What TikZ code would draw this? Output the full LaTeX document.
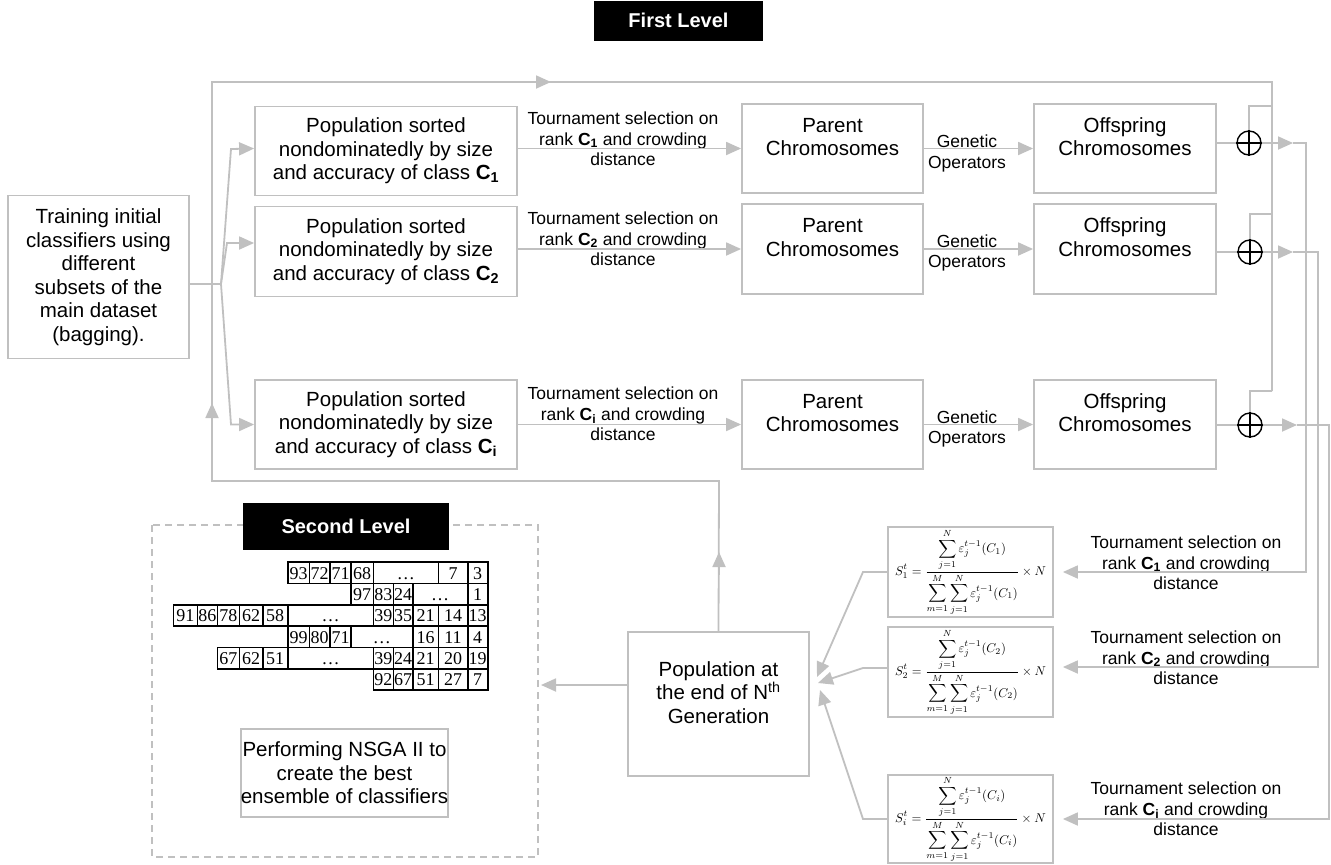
\documentclass[tikz,border=0pt]{standalone}
\usepackage{fontspec}
\setmainfont{Liberation Sans}
\newfontfamily\numfont{Liberation Serif}
\usepackage{graphicx}
\usetikzlibrary{arrows.meta,calc}
\definecolor{lg}{RGB}{192,192,192}
\newcommand\mainfs{\fontsize{20.5}{23.5}\selectfont}
\newcommand\lblfs{\fontsize{17.5}{20.5}\selectfont}
\newcommand\blkfs{\fontsize{20}{24}\selectfont\bfseries}
\newcommand\cellfs{\numfont\fontsize{18}{20}\selectfont}
\newcommand\Sform[1]{\resizebox*{151pt}{86pt}{$\displaystyle S_{#1}^{t}=\frac{\displaystyle\sum_{j=1}^{N}\varepsilon_j^{t-1}(C_{#1})}{\displaystyle\sum_{m=1}^{M}\sum_{j=1}^{N}\varepsilon_j^{t-1}(C_{#1})}\times N$}}
\newcommand\tsel[1]{Tournament selection on\\rank \textbf{C\textsubscript{#1}} and crowding\\distance}
\begin{document}
\begin{tikzpicture}[x=1pt,y=-1pt,
 gline/.style={draw=lg,line width=1.8pt},
 garr/.style={draw=lg,line width=1.8pt,-{Triangle[length=15pt,width=13pt,fill=lg]}},
 gbox/.style={draw=lg,line width=1.8pt,align=center,inner sep=0pt,font=\mainfs},
 lbl/.style={align=center,inner sep=0pt,font=\lblfs},
 blk/.style={fill=black,text=white,inner sep=0pt,font=\blkfs},
 pluss/.style={circle,draw=black,line width=1.4pt,minimum size=24pt,inner sep=0pt},
 cellb/.style={draw=black,line width=1.6pt},
 cellt/.style={font=\cellfs,inner sep=0pt,anchor=base},
 fbox/.style={draw=lg,line width=1.8pt,inner sep=0pt,minimum width=165pt,minimum height=90pt}]
\useasboundingbox (0,0) rectangle (1331,865);

% ---- nodes, first level
\node[blk,minimum width=169pt,minimum height=40pt] (first) at (678.5,20.5) {First Level};
\node[gbox,minimum width=181pt,minimum height=163pt] (train) at (98.5,277) {Training initial\\classifiers using\\different\\subsets of the\\main dataset\\(bagging).};
\node[gbox,minimum width=262pt,minimum height=89pt] (A1) at (386,151) {Population sorted\\nondominatedly by size\\and accuracy of class \textbf{C\textsubscript{1}}};
\node[gbox,minimum width=262pt,minimum height=90pt] (A2) at (386,251.5) {Population sorted\\nondominatedly by size\\and accuracy of class \textbf{C\textsubscript{2}}};
\node[gbox,minimum width=262pt,minimum height=89pt] (A3) at (386,424.5) {Population sorted\\nondominatedly by size\\and accuracy of class \textbf{C\textsubscript{i}}};
\node[gbox,minimum width=181pt,minimum height=89pt] (P1) at (832.5,148.5) {Parent\\Chromosomes\\~};
\node[gbox,minimum width=181pt,minimum height=90pt] (P2) at (832.5,249) {Parent\\Chromosomes\\~};
\node[gbox,minimum width=181pt,minimum height=89pt] (P3) at (832.5,424.5) {Parent\\Chromosomes\\~};
\node[gbox,minimum width=182pt,minimum height=89pt] (O1) at (1125,148.5) {Offspring\\Chromosomes\\~};
\node[gbox,minimum width=182pt,minimum height=90pt] (O2) at (1125,249) {Offspring\\Chromosomes\\~};
\node[gbox,minimum width=182pt,minimum height=89pt] (O3) at (1125,424.5) {Offspring\\Chromosomes\\~};
\node[lbl] (T1) at (623,139) {\tsel{1}};
\node[lbl] (T2) at (623,239) {\tsel{2}};
\node[lbl] (T3) at (623,414) {\tsel{i}};
\node[lbl] (G1) at (967,153.5) {Genetic\\Operators};
\node[lbl] (G2) at (967,253) {Genetic\\Operators};
\node[lbl] (G3) at (967,429) {Genetic\\Operators};
\node[pluss] (p1) at (1249,143) {};
\node[pluss] (p2) at (1250,252) {};
\node[pluss] (p3) at (1250,425) {};
\foreach \p in {p1,p2,p3}{\draw[black,line width=1.4pt] (\p.north) -- (\p.south) (\p.west) -- (\p.east);}

% ---- formula boxes
\node[fbox] (f1) at (970.5,572) {\Sform{1}};
\node[fbox] (f2) at (970.5,672) {\Sform{2}};
\node[fbox,minimum height=88pt] (f3) at (970.5,819) {\Sform{i}};
\node[lbl] (R1) at (1186,563) {\tsel{1}};
\node[lbl] (R2) at (1186,658) {\tsel{2}};
\node[lbl] (R3) at (1186,809) {\tsel{i}};

\node[gbox,minimum width=181pt,minimum height=144pt] (pop) at (718.5,704) {Population at\\the end of N\textsuperscript{th}\\Generation\\~};

% ---- second level
\draw[draw=lg,line width=1.8pt,dash pattern=on 7pt off 5pt] (152,525) rectangle (538,857);
\node[blk,minimum width=206pt,minimum height=47pt] (second) at (346,526.5) {Second Level};
\node[gbox,minimum width=203pt,minimum height=88pt] (perf) at (344.5,773) {Performing NSGA II to\\create the best\\ensemble of classifiers};

\foreach \a/\b/\t in {287.7/309.3/93,309.3/330/72,330/351/71,351/373.3/68,373.3/438.3/\ldots,438.3/467.7/7,467.7/487.7/3}
 {\draw[cellb] (\a,562) rectangle (\b,583.5); \node[cellt] at ({(\a+\b)/2},579) {\t};}
\foreach \a/\b/\t in {351/373.3/97,373.3/393.3/83,393.3/412.7/24,412.7/467.7/\ldots,467.7/487.7/1}
 {\draw[cellb] (\a,583.5) rectangle (\b,605); \node[cellt] at ({(\a+\b)/2},600.5) {\t};}
\foreach \a/\b/\t in {173.3/197.3/91,197.3/217.3/86,217.3/239.3/78,239.3/262.7/62,262.7/287.7/58,287.7/373.3/\ldots,373.3/393.3/39,393.3/412.7/35,412.7/438.3/21,438.3/467.7/14,467.7/487.7/13}
 {\draw[cellb] (\a,605) rectangle (\b,626); \node[cellt] at ({(\a+\b)/2},621.5) {\t};}
\foreach \a/\b/\t in {287.7/309.3/99,309.3/330/80,330/351/71,351/412.7/\ldots,412.7/438.3/16,438.3/467.7/11,467.7/487.7/4}
 {\draw[cellb] (\a,626) rectangle (\b,647.5); \node[cellt] at ({(\a+\b)/2},643) {\t};}
\foreach \a/\b/\t in {217.3/239.3/67,239.3/262.7/62,262.7/287.7/51,287.7/373.3/\ldots,373.3/393.3/39,393.3/412.7/24,412.7/438.3/21,438.3/467.7/20,467.7/487.7/19}
 {\draw[cellb] (\a,647.5) rectangle (\b,669); \node[cellt] at ({(\a+\b)/2},664.5) {\t};}
\foreach \a/\b/\t in {373.3/393.3/92,393.3/412.7/67,412.7/438.3/51,438.3/467.7/27,467.7/487.7/7}
 {\draw[cellb] (\a,669) rectangle (\b,690); \node[cellt] at ({(\a+\b)/2},685.5) {\t};}

% ---- connectors: left fan
\coordinate (fan) at (221,284);
\draw[gline] (189,284) -- (fan);
\draw[garr] (fan) -- (231,149) -- (A1.west |- P1.west);
\draw[garr] (fan) -- (227,243) -- ($(A2.west)+(0,-8.5)$);
\draw[garr] (fan) -- (231,424.5) -- (A3.west);

% rows
\foreach \r in {1,2,3}{
 \draw[garr] (A\r.east |- P\r.west) -- (P\r.west);
 \draw[garr] (P\r.east) -- (O\r.west);
 \draw[gline] (p\r -| O\r.east) -- (p\r.west);
}

% feedback loop
\draw[gline] (pop.north) -- (719,481) -- (212,481) -- (212,82) -- (1272,82) -- (1272,391);
\draw[garr] (719,575) -- (719,552);
\draw[garr] (212,425) -- (212,403);
\draw[garr] (530,82) -- (551,82);
\draw[gline] (1272,106) -- (1249,106) -- (p1.north);
\draw[gline] (1272,214) -- (1250,214) -- (p2.north);
\draw[gline] (1272,391) -- (1250,391) -- (p3.north);

% right side to formulas
\coordinate (e1) at (1293,143);
\coordinate (e2) at (1293,252);
\coordinate (e3) at (1297,425);
\draw[garr] (p1.east) -- (e1);
\draw[garr] (p2.east) -- (e2);
\draw[garr] (p3.east) -- (e3);
\draw[garr] (e1) -- (1306,143) -- (1306,572) -- ($(f1.east)+(9,0)$);
\draw[garr] (e2) -- (1318,252) -- (1318,667) -- ($(f2.east)+(9,-5)$);
\draw[garr] (e3) -- (1329,425) -- (1329,819) -- ($(f3.east)+(9,0)$);

% formulas to population
\coordinate (t1) at (817,677);
\coordinate (t2) at (818,683);
\coordinate (t3) at (820,690);
\draw[garr] (f1.west) -- (863,572) -- (t1);
\draw[garr] ($(f2.west)+(0,-4)$) -- (863,668) -- (t2);
\draw[garr] (f3.west) -- (863,819) -- (t3);

% population to second level
\draw[garr] (pop.west |- 0,685) -- (541,685);
\end{tikzpicture}
\end{document}
